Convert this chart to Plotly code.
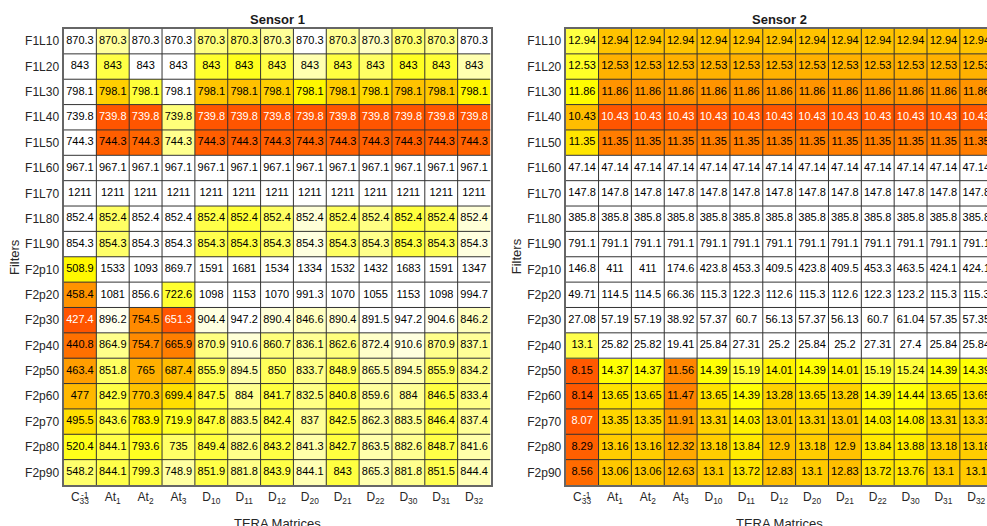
import plotly.graph_objects as go

# ---- data -----------------------------------------------------------------
FILTERS = ["F1L10", "F1L20", "F1L30", "F1L40", "F1L50", "F1L60", "F1L70", "F1L80", "F1L90",
           "F2p10", "F2p20", "F2p30", "F2p40", "F2p50", "F2p60", "F2p70", "F2p80", "F2p90"]

MATRICES = ["C33inv", "At1", "At2", "At3", "D10", "D11", "D12", "D20", "D21", "D22", "D30", "D31", "D32"]
MATRIX_TICKS = ["C<sub>33</sub>", "At<sub>1</sub>", "At<sub>2</sub>", "At<sub>3</sub>",
                "D<sub>10</sub>", "D<sub>11</sub>", "D<sub>12</sub>", "D<sub>20</sub>",
                "D<sub>21</sub>", "D<sub>22</sub>", "D<sub>30</sub>", "D<sub>31</sub>", "D<sub>32</sub>"]

SENSOR1 = [
    [870.3] * 13,
    [843] * 13,
    [798.1] * 13,
    [739.8] * 13,
    [744.3] * 13,
    [967.1] * 13,
    [1211] * 13,
    [852.4] * 13,
    [854.3] * 13,
    [508.9, 1533, 1093, 869.7, 1591, 1681, 1534, 1334, 1532, 1432, 1683, 1591, 1347],
    [458.4, 1081, 856.6, 722.6, 1098, 1153, 1070, 991.3, 1070, 1055, 1153, 1098, 994.7],
    [427.4, 896.2, 754.5, 651.3, 904.4, 947.2, 890.4, 846.6, 890.4, 891.5, 947.2, 904.6, 846.2],
    [440.8, 864.9, 754.7, 665.9, 870.9, 910.6, 860.7, 836.1, 862.6, 872.4, 910.6, 870.9, 837.1],
    [463.4, 851.8, 765, 687.4, 855.9, 894.5, 850, 833.7, 848.9, 865.5, 894.5, 855.9, 834.2],
    [477, 842.9, 770.3, 699.4, 847.5, 884, 841.7, 832.5, 840.8, 859.6, 884, 846.5, 833.4],
    [495.5, 843.6, 783.9, 719.9, 847.8, 883.5, 842.4, 837, 842.5, 862.3, 883.5, 846.4, 837.4],
    [520.4, 844.1, 793.6, 735, 849.4, 882.6, 843.2, 841.3, 842.7, 863.5, 882.6, 848.7, 841.6],
    [548.2, 844.1, 799.3, 748.9, 851.9, 881.8, 843.9, 844.1, 843, 865.3, 881.8, 851.5, 844.4],
]

SENSOR2 = [
    [12.94] * 13,
    [12.53] * 13,
    [11.86] * 13,
    [10.43] * 13,
    [11.35] * 13,
    [47.14] * 13,
    [147.8] * 13,
    [385.8] * 13,
    [791.1] * 13,
    [146.8, 411, 411, 174.6, 423.8, 453.3, 409.5, 423.8, 409.5, 453.3, 463.5, 424.1, 424.1],
    [49.71, 114.5, 114.5, 66.36, 115.3, 122.3, 112.6, 115.3, 112.6, 122.3, 123.2, 115.3, 115.3],
    [27.08, 57.19, 57.19, 38.92, 57.37, 60.7, 56.13, 57.37, 56.13, 60.7, 61.04, 57.35, 57.35],
    [13.1, 25.82, 25.82, 19.41, 25.84, 27.31, 25.2, 25.84, 25.2, 27.31, 27.4, 25.84, 25.84],
    [8.15, 14.37, 14.37, 11.56, 14.39, 15.19, 14.01, 14.39, 14.01, 15.19, 15.24, 14.39, 14.39],
    [8.14, 13.65, 13.65, 11.47, 13.65, 14.39, 13.28, 13.65, 13.28, 14.39, 14.44, 13.65, 13.65],
    [8.07, 13.35, 13.35, 11.91, 13.31, 14.03, 13.01, 13.31, 13.01, 14.03, 14.08, 13.31, 13.31],
    [8.29, 13.16, 13.16, 12.32, 13.18, 13.84, 12.9, 13.18, 12.9, 13.84, 13.88, 13.18, 13.18],
    [8.56, 13.06, 13.06, 12.63, 13.1, 13.72, 12.83, 13.1, 12.83, 13.72, 13.76, 13.1, 13.1],
]

# upper colour limit of every column (the lower limit is the column minimum)
SENSOR1_CMAX = [597, 902, 835, 771, 915, 925, 903, 862, 905, 888, 922, 910, 862]
SENSOR2_CMAX = [15.8, 18.2, 18.2, 18.2, 18.2, 18.2, 18.2, 18.2, 18.2, 18.2, 18.2, 18.2, 18.2]

# ---- styling ----------------------------------------------------------------
W, H = 987, 526
FONT = "Liberation Sans, Arial, Helvetica, sans-serif"
TICK_COLOR = "#262626"
COLORSCALE = [[0.0, "#ff5500"], [0.5, "#ffff00"], [1.0, "#ffffff"]]
GRID_COLOR = "#333333"
BOX_COLOR = "#666666"

GRID_TOP, GRID_BOTTOM = 28.5, 485.0
COL_W = (490.5 - 63.5) / len(MATRICES)


def fx(p):
    return p / W


def fy(p):
    return 1 - p / H


panels = [
    dict(title="Sensor 1", data=SENSOR1, cmax=SENSOR1_CMAX, xa="x", ya="y", left=63.5),
    dict(title="Sensor 2", data=SENSOR2, cmax=SENSOR2_CMAX, xa="x2", ya="y2", left=565.7),
]

fig = go.Figure()
annotations = []
shapes = []
n_rows, n_cols = len(FILTERS), len(MATRICES)

for k, p in enumerate(panels):
    data = p["data"]
    full_right = p["left"] + COL_W * n_cols
    vis_right = min(full_right, W)
    x_hi = -0.5 + n_cols * (vis_right - p["left"]) / (full_right - p["left"])

    # each column is coloured on its own scale: column minimum -> cmax
    col_min = [min(row[j] for row in data) for j in range(n_cols)]
    level = [[min(1.0, (row[j] - col_min[j]) / (p["cmax"][j] - col_min[j])) for j in range(n_cols)]
             for row in data]

    fig.add_trace(go.Heatmap(
        x=MATRICES, y=FILTERS, z=level, customdata=data,
        zmin=0, zmax=1, colorscale=COLORSCALE, showscale=False,
        xaxis=p["xa"], yaxis=p["ya"],
        hovertemplate="%{y}, %{x}: %{customdata}<extra></extra>",
    ))

    tx, ty, tt, tc = [], [], [], []
    for i, row in enumerate(data):
        for j, v in enumerate(row):
            tx.append(MATRICES[j])
            ty.append(FILTERS[i])
            tt.append(f"{v:g}")
            tc.append("#ffffff" if v == col_min[j] else "#000000")

    fig.add_trace(go.Scatter(
        x=tx, y=ty, text=tt, mode="text", textposition="middle center",
        textfont=dict(family=FONT, size=11, color=tc),
        xaxis=p["xa"], yaxis=p["ya"], hoverinfo="skip", showlegend=False,
    ))

    suffix = "" if k == 0 else "2"
    fig.update_layout(**{
        f"xaxis{suffix}": dict(
            domain=[fx(p["left"]), fx(vis_right)], anchor=p["ya"],
            type="category", categoryorder="array", categoryarray=MATRICES,
            tickvals=MATRICES, ticktext=MATRIX_TICKS, range=[-0.5, x_hi],
            showgrid=False, zeroline=False, ticks="",
            showline=True, mirror=True, linecolor=BOX_COLOR, linewidth=2,
            tickfont=dict(family=FONT, size=12, color=TICK_COLOR), fixedrange=True,
        ),
        f"yaxis{suffix}": dict(
            domain=[fy(GRID_BOTTOM), fy(GRID_TOP)], anchor=p["xa"],
            type="category", categoryorder="array", categoryarray=FILTERS,
            range=[n_rows - 0.5, -0.5],
            showgrid=False, zeroline=False, ticks="",
            showline=True, mirror=(k == 0), linecolor=BOX_COLOR, linewidth=2,
            tickfont=dict(family=FONT, size=12, color=TICK_COLOR), fixedrange=True,
        ),
    })

    # cell borders
    for j in range(1, n_cols):
        shapes.append(dict(type="line", xref=p["xa"], yref=p["ya"],
                           x0=j - 0.5, x1=j - 0.5, y0=-0.5, y1=n_rows - 0.5,
                           line=dict(color=GRID_COLOR, width=1)))
    for i in range(1, n_rows):
        shapes.append(dict(type="line", xref=p["xa"], yref=p["ya"],
                           x0=-0.5, x1=n_cols - 0.5, y0=i - 0.5, y1=i - 0.5,
                           line=dict(color=GRID_COLOR, width=1)))

    cx = (p["left"] + full_right) / 2
    annotations += [
        dict(text=f"<b>{p['title']}</b>", x=fx(cx), y=fy(19), xref="paper", yref="paper",
             xanchor="center", yanchor="middle", showarrow=False,
             font=dict(family=FONT, size=13, color="#1a1a1a")),
        dict(text="Filters", x=fx(p["left"] - 49.2), y=fy((GRID_TOP + GRID_BOTTOM) / 2),
             xref="paper", yref="paper", textangle=-90, xanchor="center", yanchor="middle",
             showarrow=False, font=dict(family=FONT, size=13, color=TICK_COLOR)),
        dict(text="TERA Matrices", x=fx(cx), y=fy(523), xref="paper", yref="paper",
             xanchor="center", yanchor="middle", showarrow=False,
             font=dict(family=FONT, size=13, color=TICK_COLOR)),
        dict(text="-1", x=0, xref=p["xa"], xshift=5, y=fy(495), yref="paper",
             xanchor="center", yanchor="middle", showarrow=False,
             font=dict(family=FONT, size=8.5, color=TICK_COLOR)),
    ]

fig.update_layout(
    width=W, height=H, margin=dict(l=0, r=0, t=0, b=0),
    paper_bgcolor="white", plot_bgcolor="white",
    showlegend=False, annotations=annotations, shapes=shapes,
    font=dict(family=FONT, color=TICK_COLOR),
)

fig.write_html("out.html")
